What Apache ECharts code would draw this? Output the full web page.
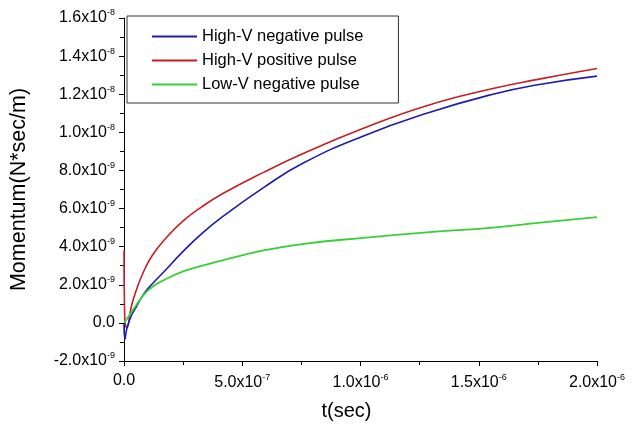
<!DOCTYPE html>
<html>
<head>
<meta charset="utf-8">
<script src="https://cdn.jsdelivr.net/npm/echarts@6/dist/echarts.min.js"></script>
<style>html,body{margin:0;padding:0;background:#fff}#c{width:635px;height:428px}</style>
</head>
<body>
<div id="c"></div>
<script>
// time in microseconds (1e-6 s), momentum in 1e-9 N*sec/m
const seriesNames = ['High-V negative pulse', 'High-V positive pulse', 'Low-V negative pulse'];
const blueT = [0, 0.004, 0.012, 0.03, 0.05, 0.085, 0.12, 0.17, 0.25, 0.33, 0.42, 0.59, 0.76, 1.01, 1.28, 1.56, 1.75, 2.0];
const blueV = [0, -0.85, -0.3, 0.35, 0.8, 1.55, 2.05, 2.7, 3.75, 4.7, 5.6, 7.1, 8.4, 9.8, 11.0, 12.0, 12.5, 12.95];
const redT = [0, 0.003, 0.012, 0.03, 0.05, 0.085, 0.12, 0.17, 0.25, 0.33, 0.42, 0.59, 0.76, 1.01, 1.28, 1.56, 1.75, 2.0];
const redV = [3.8, 0.2, -0.25, 0.8, 1.65, 2.75, 3.55, 4.35, 5.35, 6.1, 6.8, 7.9, 8.9, 10.2, 11.4, 12.3, 12.78, 13.35];
const greenT = [0, 0.02, 0.042, 0.085, 0.12, 0.17, 0.25, 0.33, 0.42, 0.59, 0.76, 1.01, 1.28, 1.56, 1.75, 2.0];
const greenV = [0, 0.35, 0.75, 1.5, 1.9, 2.25, 2.7, 3.0, 3.3, 3.8, 4.15, 4.46, 4.75, 5.0, 5.25, 5.55];
const xTicks = [0, 0.5, 1.0, 1.5, 2.0];
const yTicks = [-2, 0, 2, 4, 6, 8, 10, 12, 14, 16];
const colors = ['#1c1cae', '#c41f26', '#38d038'];

function zip(t, v) { return t.map((x, i) => [x, v[i]]); }
function sci(v, unitExp) {
  if (Math.abs(v) < 1e-12) return '0.0';
  const e = Math.floor(Math.log10(Math.abs(v)) + 1e-9);
  const m = v / Math.pow(10, e);
  return m.toFixed(1) + 'x10{sup|' + (e + unitExp) + '}';
}
const FONT = 'Liberation Sans, Arial, sans-serif';
const rich = { sup: { fontSize: 9, verticalAlign: 'top', padding: [0, 0, 10, 0], fontFamily: FONT, color: '#000' } };

const chart = echarts.init(document.getElementById('c'), null, { renderer: 'canvas' });
chart.setOption({
  animation: false,
  backgroundColor: '#fff',
  grid: { left: 124, right: 38, top: 18, bottom: 67, containLabel: false },
  legend: {
    orient: 'vertical', left: 127, top: 16,
    backgroundColor: '#fff', borderColor: '#333', borderWidth: 1,
    padding: [12, 35, 10, 25], itemGap: 7,
    itemWidth: 45, itemHeight: 2, icon: 'rect',
    textStyle: { fontSize: 16.5, fontFamily: FONT, color: '#000' },
    data: seriesNames
  },
  xAxis: {
    type: 'value', min: 0, max: 2, interval: 0.5,
    name: 't(sec)', nameLocation: 'middle', nameGap: 40,
    nameTextStyle: { fontSize: 20, fontFamily: FONT, color: '#000', padding: [0, 28, 0, 0] },
    axisLine: { onZero: false, lineStyle: { color: '#000', width: 1 } },
    axisTick: { show: true, length: 5, lineStyle: { color: '#000' } },
    minorTick: { show: true, splitNumber: 2, length: 4, lineStyle: { color: '#000' } },
    splitLine: { show: false },
    axisLabel: { fontSize: 16, fontFamily: FONT, color: '#000', margin: 12,
      formatter: v => sci(v, -6), rich: rich }
  },
  yAxis: {
    type: 'value', min: -2, max: 16, interval: 2,
    name: 'Momentum(N*sec/m)', nameLocation: 'middle', nameGap: 94, nameRotate: 90,
    nameTextStyle: { fontSize: 21.5, fontFamily: FONT, color: '#000' },
    axisLine: { show: true, lineStyle: { color: '#000', width: 1 } },
    axisTick: { show: true, length: 5, lineStyle: { color: '#000' } },
    minorTick: { show: true, splitNumber: 2, length: 4, lineStyle: { color: '#000' } },
    splitLine: { show: false },
    axisLabel: { fontSize: 16, fontFamily: FONT, color: '#000', margin: 9,
      formatter: v => sci(v, -9), rich: rich }
  },
  series: [
    { name: seriesNames[0], type: 'line', data: zip(blueT, blueV), symbol: 'none', smooth: 0.5,
      lineStyle: { width: 1.6, color: colors[0] }, itemStyle: { color: colors[0] }, z: 3 },
    { name: seriesNames[1], type: 'line', data: zip(redT, redV), symbol: 'none', smooth: 0.5,
      lineStyle: { width: 1.6, color: colors[1] }, itemStyle: { color: colors[1] }, z: 2 },
    { name: seriesNames[2], type: 'line', data: zip(greenT, greenV), symbol: 'none', smooth: 0.5,
      lineStyle: { width: 1.8, color: colors[2] }, itemStyle: { color: colors[2] }, z: 4 }
  ]
});
</script>
</body>
</html>
